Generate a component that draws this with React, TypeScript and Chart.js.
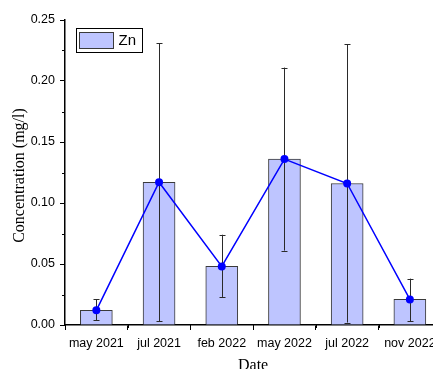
import React, { useEffect, useRef } from 'react';
import { Chart, registerables } from 'chart.js';

Chart.register(...registerables);

const categories = ['may 2021', 'jul 2021', 'feb 2022', 'may 2022', 'jul 2022', 'nov 2022'];
const znMean = [0.012, 0.117, 0.048, 0.136, 0.116, 0.021];
const znLow = [0.004, 0.003, 0.023, 0.061, 0.002, 0.003];
const znHigh = [0.021, 0.231, 0.074, 0.211, 0.230, 0.038];
const yMajorTicks = [0, 0.05, 0.1, 0.15, 0.2, 0.25];
const yMinorTicks = [0.025, 0.075, 0.125, 0.175, 0.225];
const xMinorTicks = [-0.5, 0.5, 1.5, 2.5, 3.5, 4.5, 5.5];

const BAR_FILL = '#BEC5FF';
const BAR_BORDER = '#3a3a3a';
const LINE_COLOR = '#0000FF';
const SANS = '"Liberation Sans", Arial, sans-serif';
const SERIF = '"Liberation Serif", "Times New Roman", serif';

const extrasPlugin = {
  id: 'extras',
  afterDatasetDraw(chart: any, args: any) {
    if (args.meta.type !== 'bar') return;
    const ctx = chart.ctx;
    const xs = chart.scales.x;
    const ys = chart.scales.y;
    ctx.save();
    ctx.strokeStyle = '#2a2a2a';
    ctx.lineWidth = 1;
    categories.forEach((_, i) => {
      const x = Math.round(xs.getPixelForValue(i)) + 0.5;
      const yl = ys.getPixelForValue(znLow[i]);
      const yh = ys.getPixelForValue(znHigh[i]);
      ctx.beginPath();
      ctx.moveTo(x, yl);
      ctx.lineTo(x, yh);
      ctx.moveTo(x - 3, Math.round(yl) + 0.5);
      ctx.lineTo(x + 3, Math.round(yl) + 0.5);
      ctx.moveTo(x - 3, Math.round(yh) + 0.5);
      ctx.lineTo(x + 3, Math.round(yh) + 0.5);
      ctx.stroke();
    });
    ctx.restore();
  },
  afterDraw(chart: any) {
    const ctx = chart.ctx;
    const xs = chart.scales.x;
    const ys = chart.scales.y;
    const area = chart.chartArea;
    ctx.save();
    ctx.strokeStyle = '#000';
    ctx.lineWidth = 1;
    // minor ticks
    ctx.beginPath();
    yMinorTicks.forEach((v) => {
      const y = Math.round(ys.getPixelForValue(v)) + 0.5;
      ctx.moveTo(area.left - 3, y);
      ctx.lineTo(area.left, y);
    });
    xMinorTicks.forEach((v) => {
      const x = Math.round(xs.getPixelForValue(v)) + 0.5;
      ctx.moveTo(x, area.bottom);
      ctx.lineTo(x, area.bottom + 3);
    });
    ctx.stroke();

    // x tick labels
    ctx.fillStyle = '#000';
    ctx.font = `12.5px ${SANS}`;
    ctx.textAlign = 'center';
    ctx.textBaseline = 'alphabetic';
    categories.forEach((c, i) => {
      ctx.fillText(c, xs.getPixelForValue(i), area.bottom + 21.5);
    });

    // axis titles
    ctx.font = `16px ${SERIF}`;
    ctx.textAlign = 'center';
    ctx.textBaseline = 'middle';
    ctx.save();
    ctx.translate(20, (area.top + area.bottom) / 2 + 3);
    ctx.rotate(-Math.PI / 2);
    ctx.fillText('Concentration (mg/l)', 0, 0);
    ctx.restore();
    ctx.textBaseline = 'alphabetic';
    const xMid = (xs.getPixelForValue(-0.5) + xs.getPixelForValue(5.5)) / 2;
    ctx.fillText('Date', xMid, 370);

    // legend
    ctx.fillStyle = '#fff';
    ctx.fillRect(76.5, 28.5, 66, 24);
    ctx.strokeStyle = '#000';
    ctx.strokeRect(76.5, 28.5, 66, 24);
    ctx.fillStyle = BAR_FILL;
    ctx.fillRect(79.5, 32.5, 34, 16);
    ctx.strokeStyle = BAR_BORDER;
    ctx.strokeRect(79.5, 32.5, 34, 16);
    ctx.fillStyle = '#000';
    ctx.font = `15px ${SANS}`;
    ctx.textAlign = 'left';
    ctx.textBaseline = 'middle';
    ctx.fillText('Zn', 118.5, 41);
    ctx.restore();
  },
};

export default function App() {
  const canvasRef = useRef<HTMLCanvasElement | null>(null);

  useEffect(() => {
    if (!canvasRef.current) return;
    const points = categories.map((_, i) => ({ x: i, y: znMean[i] }));
    const chart = new Chart(canvasRef.current, {
      type: 'bar',
      data: {
        datasets: [
          {
            type: 'line',
            label: 'Zn mean',
            data: points,
            borderColor: LINE_COLOR,
            backgroundColor: LINE_COLOR,
            borderWidth: 1.5,
            pointRadius: 4,
            pointBorderWidth: 0,
            pointBackgroundColor: LINE_COLOR,
            tension: 0,
            clip: false,
            order: 0,
          } as any,
          {
            type: 'bar',
            label: 'Zn',
            data: points,
            backgroundColor: BAR_FILL,
            borderColor: BAR_BORDER,
            borderWidth: 1,
            barThickness: 32,
            order: 1,
          } as any,
        ],
      },
      options: {
        responsive: false,
        animation: false,
        devicePixelRatio: 1,
        layout: { autoPadding: false, padding: { top: 20, left: 0, right: 0, bottom: 0 } },
        plugins: {
          legend: { display: false },
          tooltip: { enabled: false },
        },
        scales: {
          x: {
            type: 'linear',
            min: -0.5,
            max: 5.369,
            offset: false,
            afterBuildTicks: (scale: any) => {
              scale.ticks = categories.map((_, i) => ({ value: i }));
            },
            afterFit: (scale: any) => {
              scale.height = 44;
              scale.paddingLeft = 0;
              scale.paddingRight = 0;
            },
            grid: {
              display: true,
              drawOnChartArea: false,
              drawTicks: true,
              tickLength: 5,
              color: '#000',
              lineWidth: 1,
            },
            border: { display: true, color: '#000', width: 1.5 },
            ticks: { display: false },
          } as any,
          y: {
            type: 'linear',
            min: 0,
            max: 0.25,
            afterBuildTicks: (scale: any) => {
              scale.ticks = yMajorTicks.map((v) => ({ value: v }));
            },
            afterFit: (scale: any) => {
              scale.width = 65;
              scale.paddingTop = 0;
              scale.paddingBottom = 0;
            },
            grid: {
              display: true,
              drawOnChartArea: false,
              drawTicks: true,
              tickLength: 5,
              color: '#000',
              lineWidth: 1,
            },
            border: { display: true, color: '#000', width: 1.5 },
            ticks: {
              padding: 5,
              color: '#000',
              font: { family: SANS, size: 12.5 },
              callback: (v: any) => Number(v).toFixed(2),
            },
          } as any,
        },
      },
      plugins: [extrasPlugin],
    });
    return () => chart.destroy();
  }, []);

  return (
    <div style={{ position: 'absolute', left: 0, top: 0, width: 433, height: 369, background: '#fff' }}>
      <canvas ref={canvasRef} width={433} height={369} style={{ display: 'block' }} />
    </div>
  );
}
